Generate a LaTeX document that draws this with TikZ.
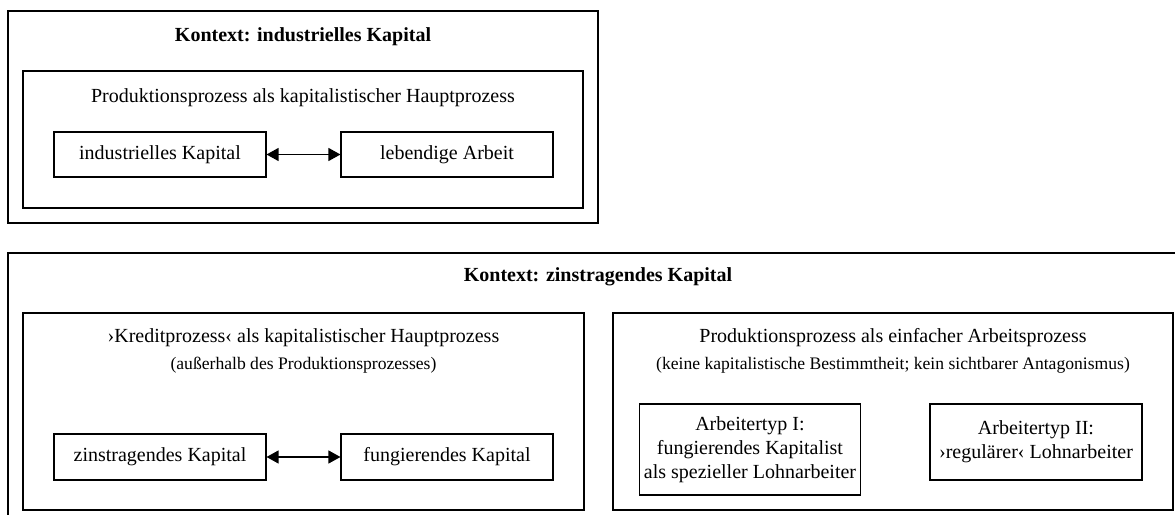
\documentclass[tikz,border=0pt]{standalone}
\usepackage{fontspec}
\setmainfont{Liberation Serif}
\usetikzlibrary{positioning,arrows.meta}
\tikzset{
  ctx/.style={draw, line width=0.7pt, inner sep=0pt},
  proc/.style={draw, line width=0.55pt, inner sep=0pt},
  item/.style={draw, line width=0.55pt, minimum width=106pt, align=center,
               inner sep=2pt, font=\fontsize{10}{12}\selectfont},
  ttl/.style={font=\fontsize{10}{12}\selectfont\bfseries},
  head/.style={font=\fontsize{10}{12}\selectfont},
  sub/.style={font=\fontsize{8.8}{10.5}\selectfont},
  lnk/.style={line width=0.6pt, {Triangle[length=6pt,width=6.5pt]}-{Triangle[length=6pt,width=6.5pt]}},
}
\begin{document}
\begin{tikzpicture}[x=0.5pt, y=-0.5pt]
  \clip (0,0) rectangle (1175,515);
  \useasboundingbox (0,0) rectangle (1175,515);
  % upper context
  \node[ctx, minimum width=295pt, minimum height=106pt] (ctxA) at (303,117) {};
  \node[ttl] (ttlA) at (303,37) {Kontext: industrielles Kapital};
  \node[proc, minimum width=280pt, minimum height=68.5pt] (procA) at (303,139.5) {};
  \node[head] (headA) at (303,98) {Produktionsprozess als kapitalistischer Hauptprozess};
  \node[item, minimum height=22.5pt] (ik) at (160,154.5) {industrielles Kapital};
  \node[item, minimum height=22.5pt] (la) at (447,154.5) {lebendige Arbeit};
  \draw[lnk] (ik) -- (la);
  % lower context
  \node[ctx, minimum width=591pt, minimum height=138pt] (ctxB) at (599,391) {};
  \node[ttl] (ttlB) at (598,277) {Kontext: zinstragendes Kapital};
  \node[proc, minimum width=280.5pt, minimum height=98.5pt] (procB) at (303.5,411.5) {};
  \node[head] (headB) at (303.5,338) {›Kreditprozess‹ als kapitalistischer Hauptprozess};
  \node[sub] (subB) at (303.5,365) {(außerhalb des Produktionsprozesses)};
  \node[item, minimum height=23pt] (zk) at (160,457) {zinstragendes Kapital};
  \node[item, minimum height=23pt] (fk) at (447,457) {fungierendes Kapital};
  \draw[lnk] (zk) -- (fk);
  \node[proc, minimum width=280pt, minimum height=98.5pt] (procC) at (893,411.5) {};
  \node[head] (headC) at (893,338) {Produktionsprozess als einfacher Arbeitsprozess};
  \node[sub] (subC) at (893,365) {(keine kapitalistische Bestimmtheit; kein sichtbarer Antagonismus)};
  \node[item, minimum height=45.5pt] (typI) at (750,449.5)
    {Arbeitertyp I:\\fungierendes Kapitalist\\als spezieller Lohnarbeiter};
  \node[item, minimum height=38pt] (typII) at (1036,442)
    {Arbeitertyp II:\\›regulärer‹ Lohnarbeiter};
\end{tikzpicture}
\end{document}
